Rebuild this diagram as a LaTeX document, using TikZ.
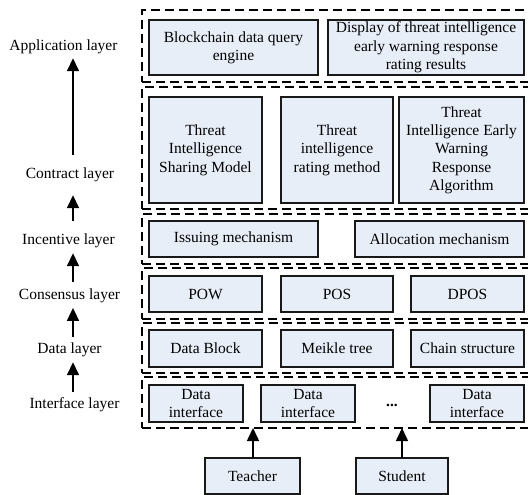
\documentclass[tikz,border=0pt]{standalone}
\usepackage{fontspec}
\setmainfont{Liberation Serif}
\usetikzlibrary{arrows.meta}
\definecolor{boxfill}{RGB}{232,238,248}
\begin{document}
\begin{tikzpicture}[x=1pt,y=-1pt,
  every node/.style={font=\fontsize{15.5}{18.3}\selectfont},
  layer/.style={draw=black, line width=1.4pt, dash pattern=on 9pt off 5pt,
    inner sep=0pt, outer sep=0pt, anchor=north west, minimum width=393},
  box/.style={draw=black!90, fill=boxfill, line width=1.2pt, inner sep=2pt,
    outer sep=0pt, align=center, anchor=north west},
  lbl/.style={inner sep=0pt, text height=10.5pt, text depth=3.5pt},
  up/.style={line width=1.6pt, -{Triangle[length=13pt,width=12pt]}}
]
\clip (0,0) rectangle (528,495);

% stacked layers (dashed frames)
\node[layer, minimum height=72]  (Lapp)  at (142,10)  {};
\node[layer, minimum height=122] (Lcon)  at (142,87)  {};
\node[layer, minimum height=50]  (Linc)  at (142,214) {};
\node[layer, minimum height=51]  (Lcns)  at (142,268) {};
\node[layer, minimum height=50]  (Ldat)  at (142,323) {};
\node[layer, minimum height=51]  (Lifc)  at (142,377) {};

% application layer
\node[box, minimum width=169, minimum height=55] (qe)  at (149,20) {Blockchain data query\\engine};
\node[box, minimum width=196, minimum height=55] (dsp) at (328,20) {Display of threat intelligence\\early warning response\\rating results};

% contract layer
\node[box, minimum width=113, minimum height=106] (tism) at (149,97) {Threat\\Intelligence\\Sharing Model};
\node[box, minimum width=112, minimum height=106] (tirm) at (281,97) {Threat\\intelligence\\rating method};
\node[box, minimum width=125, minimum height=106] (tiew) at (399,97) {Threat\\Intelligence Early\\Warning\\Response\\Algorithm};

% incentive layer
\node[box, minimum width=169, minimum height=36] (iss) at (149,221) {Issuing mechanism};
\node[box, minimum width=169, minimum height=36] (alc) at (355,221) {Allocation mechanism};

% consensus layer
\node[box, minimum width=113, minimum height=36] (pow)  at (149,276) {POW};
\node[box, minimum width=112, minimum height=36] (pos)  at (281,276) {POS};
\node[box, minimum width=113, minimum height=36] (dpos) at (411,276) {DPOS};

% data layer
\node[box, minimum width=113, minimum height=37] (dblk) at (149,330) {Data Block};
\node[box, minimum width=112, minimum height=37] (mkt)  at (281,330) {Meikle tree};
\node[box, minimum width=113, minimum height=37] (chs)  at (411,330) {Chain structure};

% interface layer
\node[box, minimum width=94, minimum height=37] (di1) at (149,385) {Data\\interface};
\node[box, minimum width=94, minimum height=37] (di2) at (261,385) {Data\\interface};
\node[anchor=base, inner sep=0pt] (dots) at (392,406) {\textbf{...}};
\node[box, minimum width=94, minimum height=37] (di4) at (430,385) {Data\\interface};

% users
\node[box, minimum width=95, minimum height=36] (tch) at (205,458) {Teacher};
\node[box, minimum width=92, minimum height=36] (stu) at (356,458) {Student};
\draw[up] (tch.north) ++(0.5,0) coordinate (tchup) -- (tchup |- Lifc.south);
\draw[up] (stu.north) -- (stu.north |- Lifc.south);

% layer names on the left
\coordinate (axis) at (73,0);
\node[lbl] (napp) at (63.5,47.2)  {Application layer};
\node[lbl] (ncon) at (70,174.5)   {Contract layer};
\node[lbl] (ninc) at (68.5,240.5) {Incentive layer};
\node[lbl] (ncns) at (69.5,295.5) {Consensus layer};
\node[lbl] (ndat) at (69.5,349.8) {Data layer};
\node[lbl] (nifc) at (74.5,404.8) {Interface layer};

\draw[up, shorten <=12.5pt, shorten >=3.8pt]  (ncon.north -| axis) -- (napp.south -| axis);
\draw[up, shorten <=12.8pt, shorten >=13.5pt] (ninc.north -| axis) -- (ncon.south -| axis);
\draw[up, shorten <=6.5pt, shorten >=5.5pt]   (ncns.north -| axis) -- (ninc.south -| axis);
\draw[up, shorten <=5.8pt, shorten >=5.2pt]   (ndat.north -| axis) -- (ncns.south -| axis);
\draw[up, shorten <=5.8pt, shorten >=5.2pt]   (nifc.north -| axis) -- (ndat.south -| axis);
\end{tikzpicture}
\end{document}
